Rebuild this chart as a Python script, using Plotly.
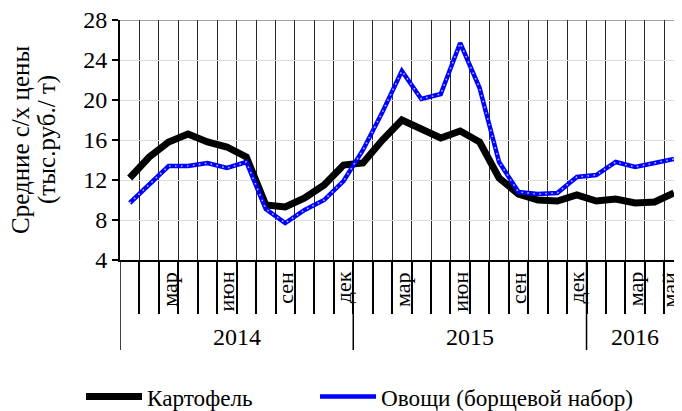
import plotly.graph_objects as go

# ---- data ----
month_idx = list(range(29))  # Jan 2014 .. May 2016
month_labels = ["", "", "мар", "", "", "июн", "", "", "сен", "", "", "дек",
                "", "", "мар", "", "", "июн", "", "", "сен", "", "", "дек",
                "", "", "мар", "", "май"]
years = ["2014", "2015", "2016"]
year_first = [0, 12, 24]
year_last = [11, 23, 28]

potato = [12.2, 14.3, 15.8, 16.6, 15.8, 15.3, 14.3, 9.5, 9.3, 10.2, 11.5, 13.5,
          13.7, 16.0, 18.0, 17.1, 16.2, 16.9, 15.8, 12.2, 10.6, 10.0, 9.9, 10.5,
          9.9, 10.1, 9.7, 9.8, 10.7]
veg = [9.7, 11.5, 13.4, 13.4, 13.7, 13.2, 13.8, 9.1, 7.7, 9.0, 10.0, 11.9,
       15.0, 18.8, 22.9, 20.1, 20.6, 25.7, 21.2, 13.8, 10.8, 10.6, 10.7, 12.3,
       12.5, 13.8, 13.3, 13.7, 14.1]

y_ticks = [4, 8, 12, 16, 20, 24, 28]
y_title_lines = ["Средние с/х цены", "(тыс.руб./ т)"]

FONT = "Liberation Serif"

# page body has an 8px margin; figure is sized so the plot lands where the reference has it
W, H = 674, 403
ML, MR, MT, MB = 112, 1, 12, 151
PW = W - ML - MR

fig = go.Figure()
fig.add_trace(go.Scatter(x=month_idx, y=potato, mode="lines", name="Картофель",
                         line=dict(color="black", width=7), legend="legend"))
fig.add_trace(go.Scatter(x=month_idx, y=veg, mode="lines", name="Овощи (борщевой набор)",
                         line=dict(color="#0000ff", width=4.5), legend="legend2"))
fig.add_trace(go.Scatter(x=month_idx, y=veg, mode="lines", showlegend=False, hoverinfo="skip",
                         line=dict(color="rgba(205,215,255,0.85)", width=1.6, dash="1.6px,4.4px")))

boundaries = [i + 0.5 for i in month_idx[:-1]]

fig.update_xaxes(
    type="linear", range=[-0.5, 28.36], automargin=False,
    tickvals=boundaries, showticklabels=False,
    ticks="outside", ticklen=52, tickcolor="black", tickwidth=1.5,
    showgrid=True, gridcolor="#262626", gridwidth=1,
    showline=True, linecolor="black", linewidth=2, zeroline=False,
)
fig.update_yaxes(
    range=[4, 28], tickvals=y_ticks, automargin=False, ticklabeloverflow="allow",
    ticks="outside", ticklen=6, tickcolor="black", tickwidth=1.5,
    showgrid=True, gridcolor="#dcdcdc", gridwidth=1,
    showline=True, linecolor="black", linewidth=2, zeroline=False,
    tickfont=dict(family=FONT, size=24, color="black"),
)

shapes = []
# top border
shapes.append(dict(type="line", xref="paper", yref="y", x0=0, x1=1, y0=28, y1=28,
                   line=dict(color="#444444", width=1)))
annotations = []
# y axis title (two lines)
for line_txt, px in zip(y_title_lines, [20, 47]):
    annotations.append(dict(x=(px - 8 - ML) / PW, y=0.5, xref="paper", yref="paper",
                            text=line_txt, textangle=-90, showarrow=False,
                            xanchor="center", yanchor="middle",
                            font=dict(family=FONT, size=25, color="black")))
last = month_idx[-1]
for xi, lab in zip(month_idx, month_labels):
    if lab:
        annotations.append(dict(x=xi, y=-0.04, xref="x", yref="paper", text=lab,
                                textangle=-90, showarrow=False, xanchor="center", yanchor="top",
                                xshift=-4 if xi == last else 0,
                                font=dict(family=FONT, size=22, color="black")))
for yr, a, b in zip(years, year_first, year_last):
    shapes.append(dict(type="line", xref="x", yref="paper", x0=a - 0.5, x1=a - 0.5,
                       y0=0, y1=-0.375, line=dict(color="black", width=1.5)))
    annotations.append(dict(x=(a + b) / 2, y=-0.32, xref="x", yref="paper", text=yr,
                            showarrow=False, xanchor="center", yanchor="middle",
                            font=dict(family=FONT, size=24, color="black")))

leg_common = dict(orientation="h", xref="container", xanchor="left",
                  y=1 - (397 - 8) / H, yref="container", yanchor="middle",
                  font=dict(family=FONT, size=23.2, color="black"), itemwidth=56,
                  bgcolor="rgba(0,0,0,0)")

fig.update_layout(
    width=W, height=H,
    margin=dict(l=ML, r=MR, t=MT, b=MB),
    plot_bgcolor="white", paper_bgcolor="white",
    font=dict(family=FONT, size=22, color="black"),
    shapes=shapes, annotations=annotations,
    legend=dict(x=(81 - 8) / W, **leg_common),
    legend2=dict(x=(315 - 8) / W, **leg_common),
    showlegend=True,
)

fig.write_html("out.html")
